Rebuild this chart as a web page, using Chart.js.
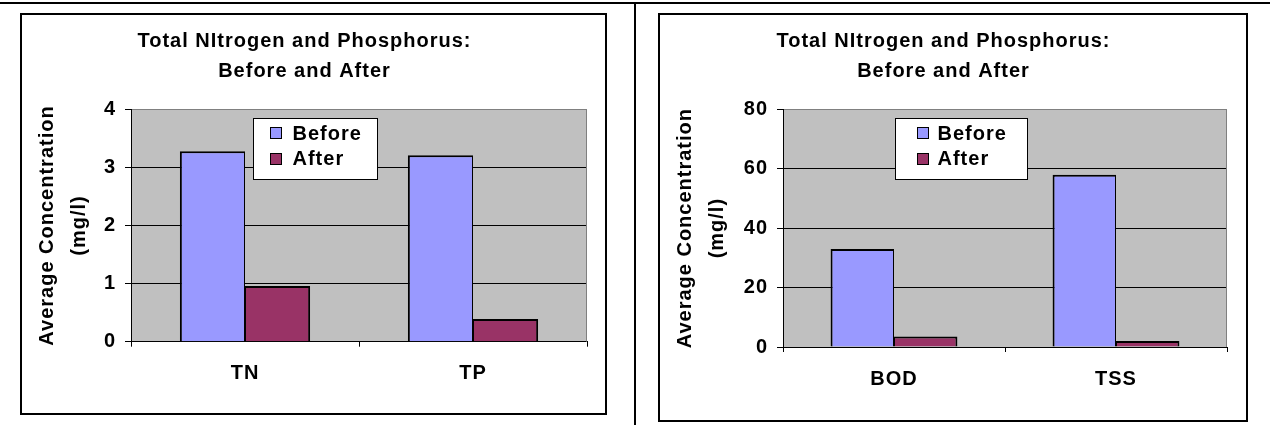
<!DOCTYPE html>
<html>
<head>
<meta charset="utf-8">
<script src="https://cdn.jsdelivr.net/npm/chart.js@4/dist/chart.umd.min.js"></script>
<style>
  html, body { margin: 0; padding: 0; background: #fff; }
  body { position: relative; width: 1270px; height: 425px; overflow: hidden; }
  .rule-top { position: absolute; left: 0; top: 2px; width: 1270px; height: 2px; background: #000; }
  .rule-mid { position: absolute; left: 634px; top: 2px; width: 2px; height: 423px; background: #000; }
  .panel { position: absolute; border: 2px solid #000; background: #fff; }
  .panel canvas { display: block; }
</style>
</head>
<body>
<div class="rule-top"></div>
<div class="rule-mid"></div>
<div class="panel" style="left:20px; top:13px; width:583px; height:398px;">
  <canvas id="nutrients" width="583" height="398"></canvas>
</div>
<div class="panel" style="left:658px; top:13px; width:586px; height:405px;">
  <canvas id="solids" width="586" height="405"></canvas>
</div>
<script>
// ---- data ----
const seriesNames = ['Before', 'After'];
const chartTitle = ['Total NItrogen and Phosphorus:', 'Before and After'];
const axisTitle = ['Average Concentration', '(mg/l)'];

const nutrientCategories = ['TN', 'TP'];
const nutrientBefore = [3.28, 3.21];
const nutrientAfter = [0.96, 0.39];
const nutrientTicks = [0, 1, 2, 3, 4];

const solidsCategories = ['BOD', 'TSS'];
const solidsBefore = [33, 58];
const solidsAfter = [3.5, 2];
const solidsTicks = [0, 20, 40, 60, 80];

// ---- styling ----
const FONT = "'Liberation Sans', Arial, Helvetica, sans-serif";
const FONT_SIZE = 20;
const SPACING = '1px';
const BEFORE_COLOR = '#9999FF';
const AFTER_COLOR = '#993366';
const PLOT_FILL = '#C0C0C0';
const FRAME_GRAY = '#808080';

const boldFont = (lh) => ({ family: FONT, size: FONT_SIZE, weight: 'bold', lineHeight: lh });

// slightly spaced-out lettering used throughout the charts
const letterSpacing = {
  id: 'letterSpacing',
  beforeUpdate(chart) { chart.ctx.letterSpacing = SPACING; },
  beforeDraw(chart) { chart.ctx.letterSpacing = SPACING; }
};

// grey plot background plus the grey right-hand frame line
const plotFrame = {
  id: 'plotFrame',
  beforeDraw(chart) {
    const { ctx, chartArea: a } = chart;
    ctx.save();
    ctx.fillStyle = PLOT_FILL;
    ctx.fillRect(a.left, a.top, a.right - a.left, a.bottom - a.top);
    ctx.restore();
  },
  beforeDatasetsDraw(chart) {
    const { ctx, chartArea: a } = chart;
    ctx.save();
    ctx.strokeStyle = FRAME_GRAY;
    ctx.lineWidth = 1;
    ctx.beginPath();
    ctx.moveTo(Math.round(a.right) - 0.5, a.top);
    ctx.lineTo(Math.round(a.right) - 0.5, a.bottom);
    ctx.stroke();
    ctx.restore();
  }
};

// boxed legend sitting inside the plot area
const boxLegend = {
  id: 'boxLegend',
  afterDatasetsDraw(chart, args, opts) {
    const { ctx, chartArea: a } = chart;
    const x = Math.round(a.left + opts.dx) + 0.5;
    const y = Math.round(a.top + opts.dy) + 0.5;
    ctx.save();
    ctx.letterSpacing = SPACING;
    ctx.fillStyle = '#fff';
    ctx.strokeStyle = '#000';
    ctx.lineWidth = 1;
    ctx.fillRect(x, y, opts.width, opts.height);
    ctx.strokeRect(x, y, opts.width, opts.height);
    ctx.font = 'bold ' + FONT_SIZE + 'px ' + FONT;
    ctx.textBaseline = 'middle';
    ctx.textAlign = 'left';
    chart.data.datasets.forEach((ds, i) => {
      const rowY = y + opts.firstRow + i * opts.rowGap;
      const sx = x + opts.swatchX;
      ctx.fillStyle = ds.backgroundColor;
      ctx.fillRect(sx, Math.round(rowY - 6) + 0.5, 11, 11);
      ctx.strokeRect(sx, Math.round(rowY - 6) + 0.5, 11, 11);
      ctx.fillStyle = '#000';
      ctx.fillText(ds.label, sx + opts.textGap, rowY + 1);
    });
    ctx.restore();
  }
};

function makeChart(id, categories, before, after, ticks, frame) {
  const axisMin = ticks[0];
  const axisMax = ticks[ticks.length - 1];
  const axisStep = ticks[1] - ticks[0];
  return new Chart(document.getElementById(id), {
    type: 'bar',
    data: {
      labels: categories,
      datasets: [
        {
          label: seriesNames[0],
          data: before,
          backgroundColor: BEFORE_COLOR,
          borderColor: '#000',
          borderWidth: { top: 2, left: 2, right: 1, bottom: 0 },
          borderSkipped: 'bottom',
          categoryPercentage: 2 / 3.5,
          barPercentage: 1
        },
        {
          label: seriesNames[1],
          data: after,
          backgroundColor: AFTER_COLOR,
          borderColor: '#000',
          borderWidth: { top: 2, left: 1, right: 2, bottom: 0 },
          borderSkipped: 'bottom',
          categoryPercentage: 2 / 3.5,
          barPercentage: 1
        }
      ]
    },
    options: {
      responsive: false,
      animation: false,
      devicePixelRatio: 1,
      layout: { padding: { top: 0, left: 0, right: frame.padRight, bottom: 0 } },
      plugins: {
        legend: { display: false },
        tooltip: { enabled: false },
        title: {
          display: true,
          text: chartTitle,
          color: '#000',
          font: boldFont('30px'),
          padding: { top: 11.7, bottom: 22.6 }
        },
        boxLegend: frame.legend
      },
      scales: {
        x: {
          grid: {
            offset: true,
            drawOnChartArea: false,
            color: '#000',
            tickLength: 5,
            tickColor: '#000'
          },
          border: { color: '#000', width: 1 },
          ticks: { color: '#000', font: boldFont(1.2), padding: 15 },
          afterFit(scale) { scale.height = frame.xHeight; }
        },
        y: {
          min: axisMin,
          max: axisMax,
          grid: {
            color: (c) => (c.tick && c.tick.value === axisMax ? FRAME_GRAY : '#000'),
            lineWidth: 1,
            tickLength: 6,
            tickColor: '#000'
          },
          border: { color: '#000', width: 1 },
          ticks: {
            stepSize: axisStep,
            color: '#000',
            font: boldFont(1.2),
            padding: 9
          },
          title: {
            display: true,
            text: axisTitle,
            color: '#000',
            font: boldFont('32px'),
            padding: { top: 9, bottom: 0 }
          },
          afterFit(scale) { scale.width = frame.yWidth; }
        }
      }
    },
    plugins: [letterSpacing, plotFrame, boxLegend]
  });
}

makeChart('nutrients', nutrientCategories, nutrientBefore, nutrientAfter, nutrientTicks, {
  padRight: 18,
  yWidth: 109,
  xHeight: 71.3,
  legend: { dx: 122, dy: 8.7, width: 124, height: 61, firstRow: 14.7, rowGap: 25.6, swatchX: 17, textGap: 22 }
});

makeChart('solids', solidsCategories, solidsBefore, solidsAfter, solidsTicks, {
  padRight: 19,
  yWidth: 123,
  xHeight: 73,
  legend: { dx: 112, dy: 8.7, width: 132, height: 61, firstRow: 14.7, rowGap: 25.6, swatchX: 22, textGap: 20 }
});
</script>
</body>
</html>
